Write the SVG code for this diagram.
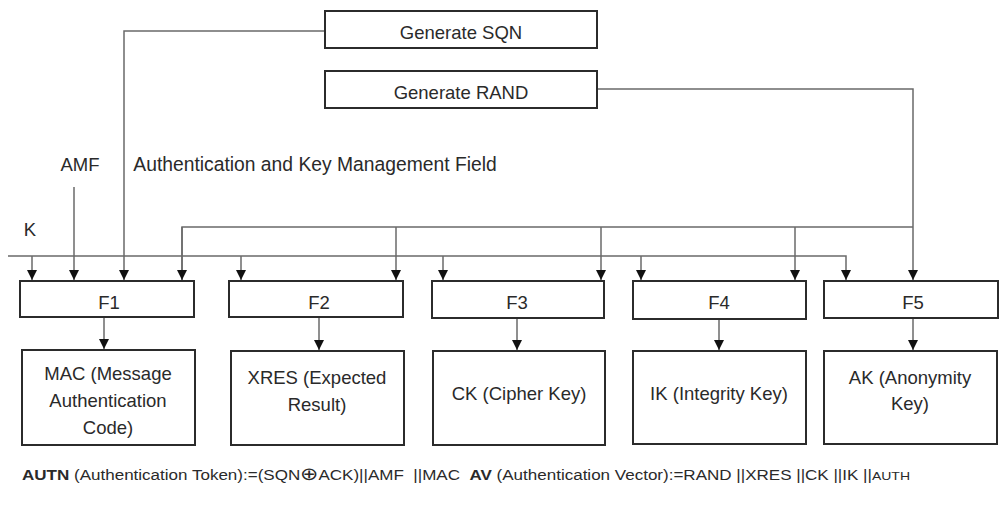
<svg xmlns="http://www.w3.org/2000/svg" width="1001" height="510" viewBox="0 0 1001 510">
<style>
.box{fill:#fff;stroke:#2b2b2b;stroke-width:2}
.ln{fill:none;stroke:#6a6a6a;stroke-width:1.5}
.t{font-family:"Liberation Sans",Arial,sans-serif;font-size:18.5px;fill:#2a2a2a;text-anchor:middle}
.s{font-family:"Liberation Sans",Arial,sans-serif;font-size:14px;fill:#2a2a2a;white-space:pre}
</style>
<defs>
<marker id="ah" viewBox="0 0 10 10" refX="10" refY="5" markerWidth="10" markerHeight="10" markerUnits="userSpaceOnUse" orient="auto">
<path d="M0,0 L10,5 L0,10 z" fill="#111"/>
</marker>
</defs>
<rect width="1001" height="510" fill="#fff"/>
<g id="connectors">
<path class="ln" d="M325,31 H124 V280" marker-end="url(#ah)"/>
<path class="ln" d="M597,89 H913 V280" marker-end="url(#ah)"/>
<path class="ln" d="M182,280 V227 H913"/>
<path class="ln" d="M182,227 V280" marker-end="url(#ah)"/>
<path class="ln" d="M396,227 V280" marker-end="url(#ah)"/>
<path class="ln" d="M601,227 V280" marker-end="url(#ah)"/>
<path class="ln" d="M795,227 V280" marker-end="url(#ah)"/>
<path class="ln" d="M74,187 V280" marker-end="url(#ah)"/>
<path class="ln" d="M8,256 H846 V280" marker-end="url(#ah)"/>
<path class="ln" d="M32,256 V280" marker-end="url(#ah)"/>
<path class="ln" d="M241,256 V280" marker-end="url(#ah)"/>
<path class="ln" d="M443,256 V280" marker-end="url(#ah)"/>
<path class="ln" d="M641,256 V280" marker-end="url(#ah)"/>
<path class="ln" d="M104,317 V349" marker-end="url(#ah)"/>
<path class="ln" d="M319,318 V350" marker-end="url(#ah)"/>
<path class="ln" d="M517,318 V350" marker-end="url(#ah)"/>
<path class="ln" d="M719,319 V350" marker-end="url(#ah)"/>
<path class="ln" d="M913,318 V350" marker-end="url(#ah)"/>
</g>
<g id="gen-sqn"><rect class="box" x="325" y="11" width="272" height="37"/><text class="t" x="461" y="39">Generate SQN</text></g>
<g id="gen-rand"><rect class="box" x="325" y="71" width="272" height="37"/><text class="t" x="461" y="99">Generate RAND</text></g>
<g id="lbl-amf"><text class="t" x="80" y="171">AMF</text></g>
<g id="lbl-akmf"><text class="t" x="315" y="171" style="font-size:19.3px">Authentication and Key Management Field</text></g>
<g id="lbl-k"><text class="t" x="30" y="236">K</text></g>
<g id="f1"><rect class="box" x="20" y="281" width="174" height="36"/><text class="t" x="109" y="309">F1</text></g>
<g id="f2"><rect class="box" x="229" y="281" width="174" height="36"/><text class="t" x="319" y="309">F2</text></g>
<g id="f3"><rect class="box" x="432" y="281" width="172" height="37"/><text class="t" x="517" y="309">F3</text></g>
<g id="f4"><rect class="box" x="633" y="281" width="173" height="38"/><text class="t" x="719" y="309">F4</text></g>
<g id="f5"><rect class="box" x="824" y="281" width="174" height="37"/><text class="t" x="913" y="309">F5</text></g>
<g id="mac"><rect class="box" x="22" y="350" width="173" height="95"/><text class="t" x="108" y="380">MAC (Message</text><text class="t" x="108" y="407">Authentication</text><text class="t" x="108" y="434">Code)</text></g>
<g id="xres"><rect class="box" x="231" y="351" width="173" height="94"/><text class="t" x="317" y="384">XRES (Expected</text><text class="t" x="317" y="411">Result)</text></g>
<g id="ck"><rect class="box" x="433" y="351" width="172" height="94"/><text class="t" x="519" y="400">CK (Cipher Key)</text></g>
<g id="ik"><rect class="box" x="633" y="351" width="173" height="93"/><text class="t" x="719" y="400">IK (Integrity Key)</text></g>
<g id="ak"><rect class="box" x="824" y="351" width="173" height="93"/><text class="t" x="910" y="384">AK (Anonymity</text><text class="t" x="910" y="410">Key)</text></g>
<g id="formula"><text class="s" x="22" y="480" textLength="888" lengthAdjust="spacingAndGlyphs"><tspan font-weight="bold">AUTN</tspan> (Authentication Token):=(SQN<tspan font-size="18px">⊕</tspan>ACK)||AMF  ||MAC  <tspan font-weight="bold">AV</tspan> (Authentication Vector):=RAND ||XRES ||CK ||IK ||<tspan font-size="11.5px">AUTH</tspan></text></g>
</svg>
